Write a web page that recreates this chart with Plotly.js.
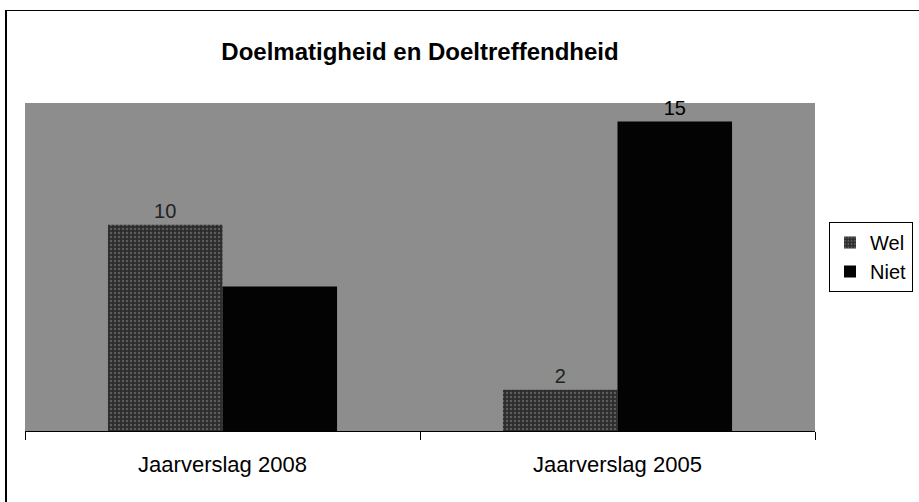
<!DOCTYPE html>
<html>
<head>
<meta charset="utf-8">
<script src="https://cdn.plot.ly/plotly-3.0.1.min.js"></script>
<style>
  html, body { margin: 0; padding: 0; background: #fff; }
  #wrap { position: relative; width: 919px; height: 502px; overflow: hidden; }
  #frame { position: absolute; left: 5px; top: 10px; width: 960px; height: 560px;
           border-left: 2px solid #000; border-top: 1px solid #000; box-sizing: border-box; pointer-events: none; }
  #chart { position: absolute; left: 0; top: 0; width: 919px; height: 502px; }
</style>
</head>
<body>
<div id="wrap">
  <div id="chart"></div>
  <div id="frame"></div>
</div>
<script>
const categories = ["Jaarverslag 2008", "Jaarverslag 2005"];
const seriesNames = ["Wel", "Niet"];
const welValues = [10, 2];
const nietValues = [7, 15];
const welLabelShown = [true, true];
const nietLabelShown = [false, true];

const labelsFor = (vals, shown) => vals.map((v, i) => shown[i] ? String(v) : "");
const FONT = "Liberation Sans, Arial, sans-serif";

const traces = [
  {
    type: "bar", name: seriesNames[0], x: categories, y: welValues,
    text: labelsFor(welValues, welLabelShown), textposition: "outside",
    textfont: { family: FONT, size: 20, color: "#222" },
    cliponaxis: false,
    marker: { color: "#333333", line: { width: 0 },
              pattern: { shape: ".", fgcolor: "#5c5c5c", bgcolor: "#2c2c2c", size: 4, solidity: 0.3 } }
  },
  {
    type: "bar", name: seriesNames[1], x: categories, y: nietValues,
    text: labelsFor(nietValues, nietLabelShown), textposition: "outside",
    textfont: { family: FONT, size: 20, color: "#000" },
    cliponaxis: false,
    marker: { color: "#030303", line: { width: 0 } }
  }
];

const layout = {
  width: 919, height: 502,
  margin: { l: 25, r: 104, t: 103, b: 71, pad: 0, autoexpand: false },
  paper_bgcolor: "rgba(0,0,0,0)",
  plot_bgcolor: "#8d8d8d",
  title: {
    text: "<b>Doelmatigheid en Doeltreffendheid</b>",
    font: { family: FONT, size: 24, color: "#000" },
    x: 0.5, xref: "paper", xanchor: "center", y: 46, yref: "container", yanchor: "middle"
  },
  barmode: "group",
  bargap: 0.42,
  bargroupgap: 0,
  showlegend: true,
  legend: {
    xref: "container", yref: "container",
    x: 829 / 919, xanchor: "left", y: 1 - 222 / 502, yanchor: "top",
    bordercolor: "#000", borderwidth: 1, bgcolor: "#fff",
    font: { family: FONT, size: 20, color: "#000" },
    itemwidth: 30, tracegroupgap: 4
  },
  xaxis: {
    type: "category",
    showline: true, linecolor: "#000", linewidth: 1,
    ticks: "outside", tickson: "boundaries", ticklen: 8, tickcolor: "#000",
    ticklabelstandoff: 14,
    tickfont: { family: FONT, size: 22, color: "#000" },
    showgrid: false, zeroline: false
  },
  yaxis: {
    range: [0, 15.9], visible: false, showgrid: false, zeroline: false, fixedrange: true
  }
};

Plotly.newPlot("chart", traces, layout, { displayModeBar: false, staticPlot: true });
</script>
</body>
</html>
